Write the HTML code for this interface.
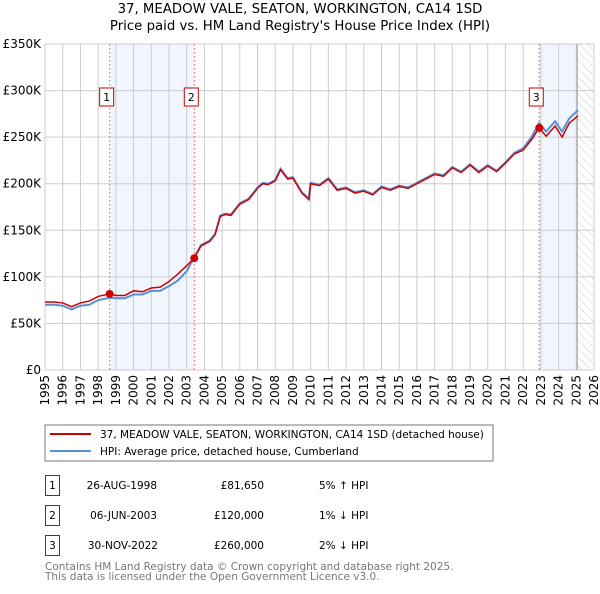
<!DOCTYPE html>
<html><head><meta charset="utf-8"><style>
body{margin:0;background:#fff;font-family:"DejaVu Sans","Liberation Sans",sans-serif;}
svg text{font-family:"DejaVu Sans","Liberation Sans",sans-serif;}
</style></head><body>
<svg id="c" width="600" height="590" xmlns="http://www.w3.org/2000/svg">
<defs><pattern id="hatch" width="6" height="6" patternUnits="userSpaceOnUse" patternTransform="rotate(-45)"><line x1="0" y1="0" x2="0" y2="6" stroke="#ccc" stroke-width="1"/></pattern></defs>
<text x="300" y="13" text-anchor="middle" font-size="13.3">37, MEADOW VALE, SEATON, WORKINGTON, CA14 1SD</text>
<text x="300" y="30" text-anchor="middle" font-size="13.3">Price paid vs. HM Land Registry's House Price Index (HPI)</text>
<g id="plot"></g>
<rect x="45" y="425" width="448" height="36" fill="#fff" stroke="#777"/>
<line x1="50" y1="434" x2="91" y2="434" stroke="#cc0000" stroke-width="2"/>
<text x="100" y="438" font-size="10.5">37, MEADOW VALE, SEATON, WORKINGTON, CA14 1SD (detached house)</text>
<line x1="50" y1="451" x2="91" y2="451" stroke="#5b8fd4" stroke-width="2"/>
<text x="100" y="455" font-size="10.5">HPI: Average price, detached house, Cumberland</text>
<g font-size="10.5">
<rect x="45.5" y="475.5" width="14" height="20" fill="#fff" stroke="#cc0000"/><text x="52.5" y="489" text-anchor="middle">1</text>
<text x="157" y="489" text-anchor="end">26-AUG-1998</text><text x="264" y="489" text-anchor="end">£81,650</text><text x="319" y="489">5% ↑ HPI</text>
<rect x="45.5" y="505.5" width="14" height="20" fill="#fff" stroke="#cc0000"/><text x="52.5" y="519" text-anchor="middle">2</text>
<text x="157" y="519" text-anchor="end">06-JUN-2003</text><text x="264" y="519" text-anchor="end">£120,000</text><text x="319" y="519">1% ↓ HPI</text>
<rect x="45.5" y="535.5" width="14" height="20" fill="#fff" stroke="#cc0000"/><text x="52.5" y="549" text-anchor="middle">3</text>
<text x="158" y="549" text-anchor="end">30-NOV-2022</text><text x="264" y="549" text-anchor="end">£260,000</text><text x="319" y="549">2% ↓ HPI</text>
</g>
<text x="45" y="570" font-size="10.5" fill="#777">Contains HM Land Registry data © Crown copyright and database right 2025.</text>
<text x="45" y="580" font-size="10.5" fill="#777">This data is licensed under the Open Government Licence v3.0.</text>
</svg>
<script>
const years=[1995,1995.5,1996,1996.5,1997,1997.5,1998,1998.65,1999,1999.5,2000,2000.5,2001,2001.5,2002,2002.5,2003,2003.43,2003.8,2004.3,2004.6,2004.9,2005.2,2005.5,2006,2006.5,2007,2007.3,2007.6,2008,2008.3,2008.7,2009,2009.5,2009.9,2010,2010.5,2011,2011.5,2012,2012.5,2013,2013.5,2014,2014.5,2015,2015.5,2016,2016.5,2017,2017.5,2018,2018.5,2019,2019.5,2020,2020.5,2021,2021.5,2022,2022.5,2022.9,2023.3,2023.8,2024.2,2024.6,2025.1];
const priceK=[73,73,72,68,72,74,79,81.65,80,80,85,84,88,89,95,103,112,120,133,138,145,165,167,166,178,183,195,200,199,203,215,205,206,190,183,200,198,205,193,195,190,192,188,196,193,197,195,200,205,210,208,217,212,220,212,219,213,222,232,236,248,260,251,262,250,265,273];
const hpiK=[70,70,69,65,69,70,75,77.5,77,77,81,81,85,85,90,96,106,121,134,139,146,166,168,167,179,184,196,201,200,204,216,206,207,191,184,201,199,206,194,196,191,193,189,197,194,198,196,201,206,211,209,218,213,221,213,220,214,223,233,238,251,265,256,267,256,270,279];
const yTicks=[0,50,100,150,200,250,300,350];
const xTicks=[1995,1996,1997,1998,1999,2000,2001,2002,2003,2004,2005,2006,2007,2008,2009,2010,2011,2012,2013,2014,2015,2016,2017,2018,2019,2020,2021,2022,2023,2024,2025,2026];
const saleYears=[1998.65,2003.43,2022.91];
const saleK=[81.65,120,260];
const saleLabels=["1","2","3"];
const dataEnd=2025.05;

const L=45,R=594,T=44,B=370;
const X=y=>L+(y-1995)/(2026-1995)*(R-L);
const Y=v=>B-v/350*(B-T);
const NS="http://www.w3.org/2000/svg";
const g=document.getElementById('plot');
function el(t,a){const e=document.createElementNS(NS,t);for(const k in a)e.setAttribute(k,a[k]);g.appendChild(e);return e;}
let e;
e=el('rect',{x:X(saleYears[0]),y:T,width:X(saleYears[1])-X(saleYears[0]),height:B-T,fill:'#eef3fc',opacity:0.8});


e=el('rect',{x:X(saleYears[2]),y:T,width:X(dataEnd)-X(saleYears[2]),height:B-T,fill:'#eef3fc',opacity:0.8});


e=el('rect',{x:X(dataEnd),y:T,width:R-X(dataEnd),height:B-T,fill:'url(#hatch)'});


yTicks.forEach(v=>{
 e=el('line',{x1:L,x2:R,y1:Y(v),y2:Y(v),stroke:'#ccc'});
 
 
 e=el('text',{x:L-4,y:Y(v)+4,'text-anchor':'end','font-size':12});e.textContent=v==0?'£0':'£'+v+'K';
 
 
});
xTicks.forEach(yr=>{
 e=el('line',{x1:X(yr),x2:X(yr),y1:T,y2:B,stroke:'#ccc'});
 
 
 e=el('text',{x:X(yr)+4,y:B+5,'text-anchor':'end','font-size':12,transform:`rotate(-90 ${X(yr)+4} ${B+5})`});e.textContent=yr;
 
 
});
e=el('line',{x1:X(dataEnd),x2:X(dataEnd),y1:T,y2:B,stroke:'#999'});


e=el('polyline',{points:years.map((y,i)=>X(y)+','+Y(hpiK[i])).join(' '),fill:'none',stroke:'#5b8fd4','stroke-width':2});


e=el('polyline',{points:years.map((y,i)=>X(y)+','+Y(priceK[i])).join(' '),fill:'none',stroke:'#cc0000','stroke-width':1.5});


saleYears.forEach((yr,i)=>{
 e=el('line',{x1:X(yr),x2:X(yr),y1:T,y2:B,stroke:'#e55','stroke-dasharray':'1.5,2.5'});
 
 
 e=el('circle',{cx:X(yr),cy:Y(saleK[i]),r:4,fill:'#cc0000'});
 
 
 e=el('rect',{x:X(yr)-10,y:88,width:14,height:18,fill:'#fff',stroke:'#cc0000'});
 
 
 e=el('text',{x:X(yr)-3,y:101,'text-anchor':'middle','font-size':11});e.textContent=saleLabels[i];
 
 
});
</script>
</body></html>
